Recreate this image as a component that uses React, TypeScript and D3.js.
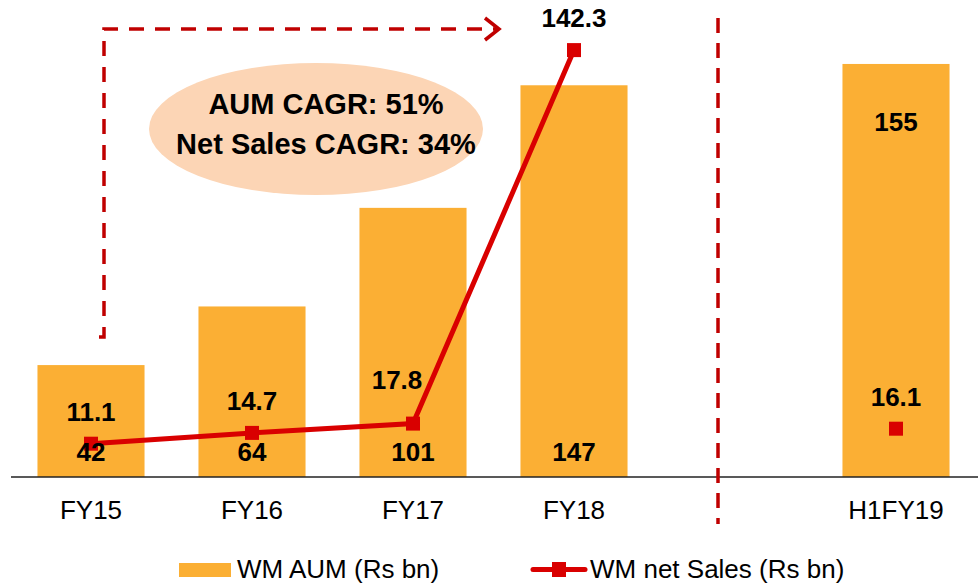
import React from 'react';
import * as d3 from 'd3';

// categories (the empty slot is the gap before the half-year)
const categories = ['FY15', 'FY16', 'FY17', 'FY18', '', 'H1FY19'];
const aum = [42, 64, 101, 147, null, 155];
const netSales = [11.1, 14.7, 17.8, 142.3, null, 16.1];
const cagrLines = ['AUM CAGR: 51%', 'Net Sales CAGR: 34%'];
const legendLabels = ['WM AUM (Rs bn)', 'WM net Sales (Rs bn)'];

const width = 978;
const height = 586;
const baseY = 477;
const barColor = '#FBAF34';
const lineColor = '#D90000';
const dashColor = '#C00000';

const App = () => {
  const x = d3.scaleBand<string>()
    .domain(categories.map((c, i) => c || `gap${i}`))
    .range([10.5, 976.5])
    .paddingInner(0.335)
    .paddingOuter(0.1675);

  const yBar = d3.scaleLinear().domain([0, 179]).range([baseY, 0]);
  const yLine = d3.scaleLinear().domain([0, 159]).range([baseY, 0]);

  const key = (i: number) => categories[i] || `gap${i}`;
  const cx = (i: number) => (x(key(i)) as number) + x.bandwidth() / 2;

  // line only joins the full years
  const linePts = netSales.slice(0, 4).map((v, i) => [cx(i), yLine(v as number)] as [number, number]);
  const line = d3.line();

  const font = 'Arial, "Liberation Sans", sans-serif';

  return (
    <svg width={width} height={height} style={{ position: 'absolute', left: 0, top: 0 }}>
      <rect width={width} height={height} fill="#fff" />

      {/* bars */}
      {aum.map((v, i) => v == null ? null : (
        <rect key={i} x={x(key(i))} y={yBar(v)} width={x.bandwidth()} height={baseY - yBar(v)} fill={barColor} />
      ))}

      {/* axis line */}
      <line x1={11} x2={978} y1={baseY} y2={baseY} stroke="#222" strokeWidth={1.5} />

      {/* separator */}
      <line x1={718} x2={718} y1={18} y2={524} stroke={dashColor} strokeWidth={3.5} strokeDasharray="15 10" />

      {/* dashed arrow */}
      <path d="M99,337 H104 V29 H497" fill="none" stroke={dashColor} strokeWidth={3.5} strokeDasharray="15 11" />
      <path d="M485,18 L499,29 L485,40" fill="none" stroke={dashColor} strokeWidth={3.5} strokeLinejoin="miter" />

      {/* CAGR bubble */}
      <ellipse cx={316} cy={129} rx={167} ry={66} fill="#FCD5B5" />
      {cagrLines.map((t, i) => (
        <text key={t} x={326} y={114 + i * 40} textAnchor="middle" fontFamily={font} fontWeight="bold" fontSize={29} fill="#000">{t}</text>
      ))}

      {/* net sales line */}
      <path d={line(linePts) || ''} fill="none" stroke={lineColor} strokeWidth={5} />
      {netSales.map((v, i) => v == null ? null : (
        <rect key={i} x={cx(i) - 7} y={yLine(v) - 7} width={14} height={14} fill={lineColor} />
      ))}

      {/* bar labels */}
      {aum.map((v, i) => v == null ? null : (
        <text key={i} x={cx(i)} y={i === 5 ? yBar(v) + 67 : baseY - 16} textAnchor="middle"
          fontFamily={font} fontWeight="bold" fontSize={26} fill="#000">{v}</text>
      ))}

      {/* line labels */}
      {netSales.map((v, i) => v == null ? null : (
        <text key={i} x={cx(i) + (i === 2 ? -16 : 0)} y={yLine(v) - (i === 2 ? 35 : 23)} textAnchor="middle"
          fontFamily={font} fontWeight="bold" fontSize={26} fill="#000">{v.toFixed(1)}</text>
      ))}

      {/* x labels */}
      {categories.map((c, i) => c ? (
        <text key={c} x={cx(i)} y={519} textAnchor="middle" fontFamily={font} fontSize={26} fill="#000">{c}</text>
      ) : null)}

      {/* legend */}
      <rect x={179} y={563} width={52} height={14} fill={barColor} />
      <text x={237} y={578} fontFamily={font} fontSize={26} fill="#000">{legendLabels[0]}</text>
      <line x1={533} x2={585} y1={569.5} y2={569.5} stroke={lineColor} strokeWidth={5} strokeLinecap="round" />
      <rect x={552} y={562} width={14} height={15} fill={lineColor} />
      <text x={590} y={578} fontFamily={font} fontSize={26} fill="#000">{legendLabels[1]}</text>
    </svg>
  );
};

export default App;
